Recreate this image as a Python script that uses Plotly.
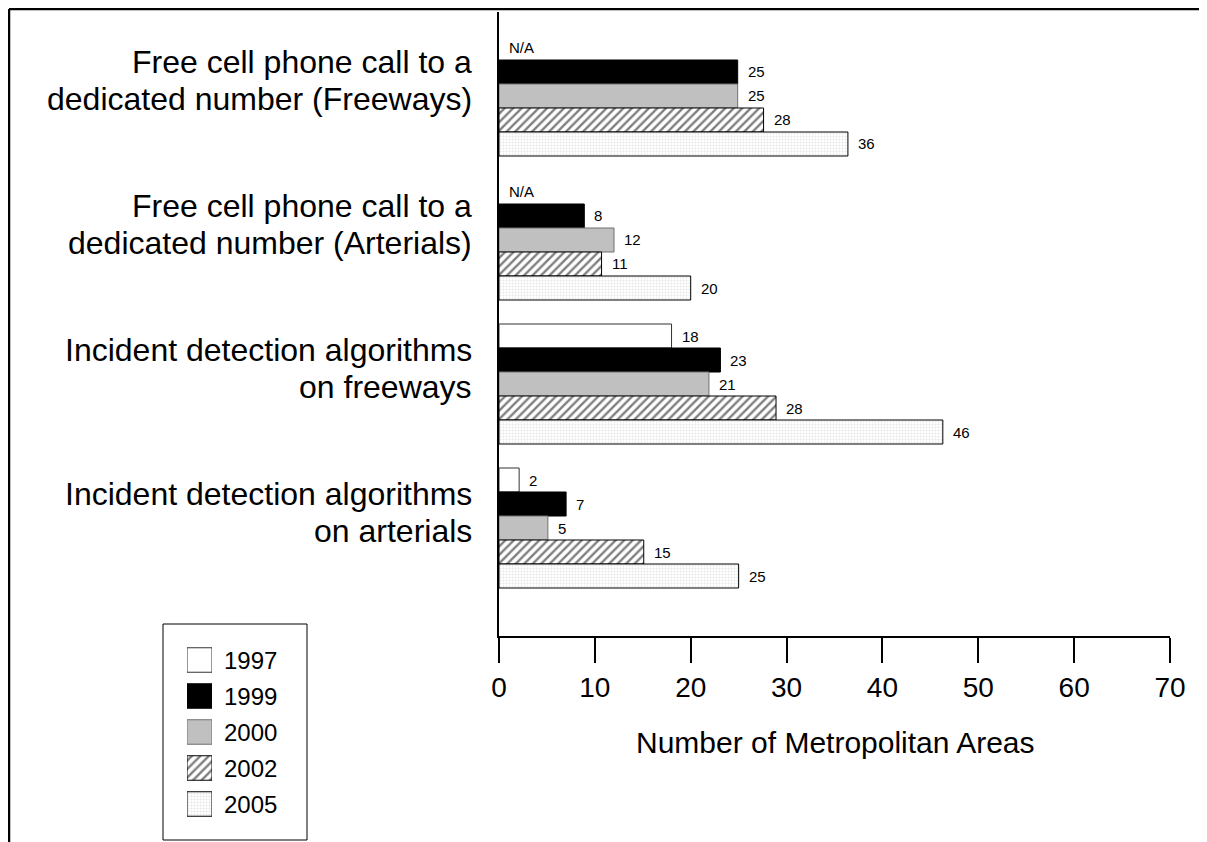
import plotly.graph_objects as go

# page body adds an 8px margin, so the figure is drawn 8px smaller and
# every pixel position below is given in page coordinates
PAGE_W, PAGE_H = 1207, 842
OFF = 8
W, H = PAGE_W - OFF, PAGE_H - OFF

categories = [
    "Free cell phone call to a<br>dedicated number (Freeways)",
    "Free cell phone call to a<br>dedicated number (Arterials)",
    "Incident detection algorithms<br>on freeways",
    "Incident detection algorithms<br>on arterials",
]
years = ["1997", "1999", "2000", "2002", "2005"]

# bar lengths as drawn (metropolitan areas)
v1997 = [None, None, 18.0, 2.1]
v1999 = [24.9, 8.9, 23.1, 7.0]
v2000 = [24.9, 12.0, 21.9, 5.1]
v2002 = [27.6, 10.7, 28.9, 15.1]
v2005 = [36.4, 20.0, 46.3, 25.0]

# printed value labels
lab1997 = ["N/A", "N/A", "18", "2"]
lab1999 = ["25", "8", "23", "7"]
lab2000 = ["25", "12", "21", "5"]
lab2002 = ["28", "11", "28", "15"]
lab2005 = ["36", "20", "46", "25"]

x_ticks = [0, 10, 20, 30, 40, 50, 60, 70]

FONT = "Liberation Sans, Arial, sans-serif"


def px(x):
    return (x - OFF) / W


def py(y):
    return 1 - (y - OFF) / H


styles = {
    "1997": dict(color="white", line=dict(color="#333333", width=1)),
    "1999": dict(color="black", line=dict(color="black", width=1)),
    "2000": dict(color="#c0c0c0", line=dict(color="#707070", width=1)),
    "2002": dict(color="white", line=dict(color="black", width=1),
                 pattern=dict(shape="/", fgcolor="black", bgcolor="white",
                              size=6, solidity=0.4)),
    "2005": dict(color="white", line=dict(color="black", width=1),
                 pattern=dict(shape="+", fgcolor="#b4b4b4", bgcolor="white",
                              size=3, solidity=0.2)),
}

values = [v1997, v1999, v2000, v2002, v2005]
labels = [lab1997, lab1999, lab2000, lab2002, lab2005]
bar_h = 1 / 6

fig = go.Figure()
annotations = []

for i, (yr, vals, labs) in enumerate(zip(years, values, labels)):
    off = (i - 2) * bar_h
    ys = [c + off for c in range(len(categories))]
    fig.add_trace(go.Bar(
        x=vals, y=ys, orientation="h", width=bar_h, name=yr,
        marker=styles[yr], xaxis="x", yaxis="y", hoverinfo="x+name",
    ))
    for v, yy, lab in zip(vals, ys, labs):
        annotations.append(dict(
            x=v if v is not None else 0, y=yy, xref="x", yref="y",
            text=lab, showarrow=False, xanchor="left", yanchor="middle",
            xshift=8, font=dict(family=FONT, size=15, color="black"),
        ))
    # legend swatch in its own small axes
    fig.add_trace(go.Bar(
        x=[1], y=[i], orientation="h", width=0.68, marker=styles[yr],
        xaxis="x2", yaxis="y2", hoverinfo="skip",
    ))
    annotations.append(dict(
        x=px(222), y=i, xref="paper", yref="y2", text=yr, showarrow=False,
        xanchor="left", yanchor="middle",
        font=dict(family=FONT, size=24, color="black"),
    ))

# category labels, two lines each, right aligned left of the axis
for c, name in enumerate(categories):
    for k, line in enumerate(name.split("<br>")):
        annotations.append(dict(
            x=px(474), y=c, xref="paper", yref="y", text=line,
            showarrow=False, xanchor="right", yanchor="middle",
            yshift=34 - 37 * k,
            font=dict(family=FONT, size=32, color="black"),
        ))

annotations.append(dict(
    x=px(835), y=py(742), xref="paper", yref="paper",
    text="Number of Metropolitan Areas", showarrow=False,
    xanchor="center", yanchor="middle",
    font=dict(family=FONT, size=30, color="black"),
))

shapes = [
    # outer frame (top and left edges)
    dict(type="line", xref="paper", yref="paper", x0=px(9), x1=1.0,
         y0=py(9), y1=py(9), line=dict(color="black", width=2.5)),
    dict(type="line", xref="paper", yref="paper", x0=px(9), x1=px(9),
         y0=py(9), y1=0.0, line=dict(color="black", width=2.5)),
    # legend box
    dict(type="rect", xref="paper", yref="paper", x0=px(163), x1=px(307),
         y0=py(840), y1=py(624), line=dict(color="black", width=1)),
]

fig.update_layout(
    width=W, height=H,
    margin=dict(l=0, r=0, t=0, b=0),
    paper_bgcolor="white", plot_bgcolor="white",
    showlegend=False, barmode="overlay",
    font=dict(family=FONT, color="black"),
    xaxis=dict(
        domain=[px(499), px(1170)], range=[0, 70], anchor="y",
        tickvals=x_ticks, ticks="outside", ticklen=25, tickwidth=2,
        tickcolor="black", showline=True, linewidth=2, linecolor="black",
        tickfont=dict(family=FONT, size=28, color="black"),
        showgrid=False, zeroline=False, automargin=False,
    ),
    yaxis=dict(
        domain=[py(636), py(12)], range=[3.75, -0.5833], anchor="x",
        showline=True, linewidth=2, linecolor="black", ticks="",
        showticklabels=False, showgrid=False, zeroline=False,
        automargin=False,
    ),
    xaxis2=dict(domain=[px(187), px(212)], range=[0, 1], anchor="y2",
                visible=False, fixedrange=True),
    yaxis2=dict(domain=[py(822), py(642)], range=[4.5, -0.5], anchor="x2",
                visible=False, fixedrange=True),
    annotations=annotations,
    shapes=shapes,
)

fig.write_html("out.html")
